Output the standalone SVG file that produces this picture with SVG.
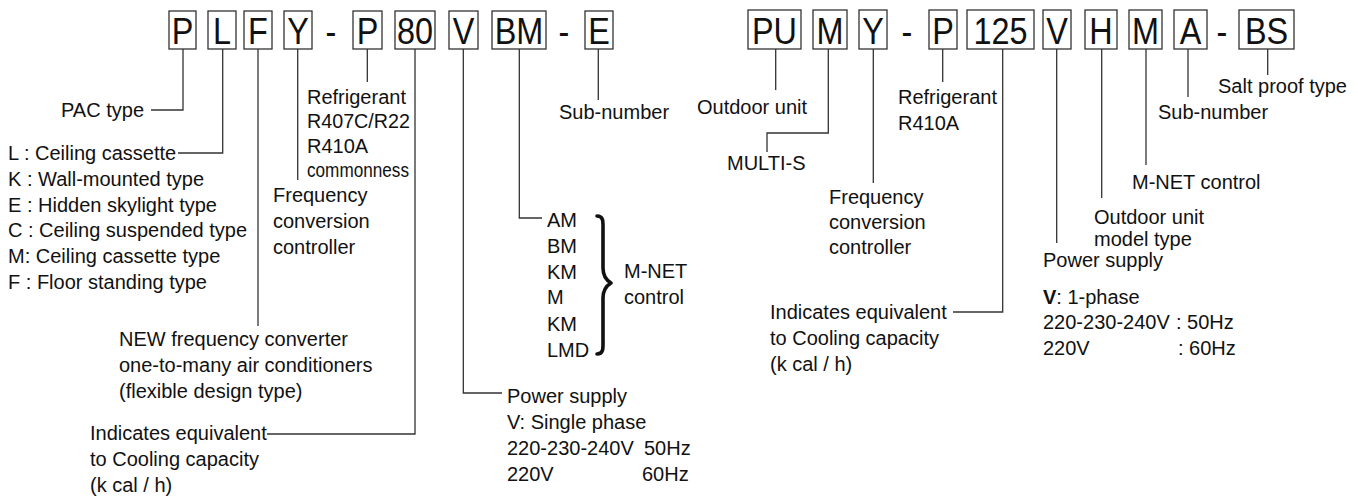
<svg xmlns="http://www.w3.org/2000/svg" width="1358" height="497" viewBox="0 0 1358 497">
<style>
.bx{fill:#fff;stroke:#333;stroke-width:1.3}
.bt{font-family:"Liberation Sans",Arial,sans-serif;font-size:36px;fill:#111;text-anchor:middle}
.t{font-family:"Liberation Sans",Arial,sans-serif;font-size:20px;fill:#111}
.ln{fill:none;stroke:#333;stroke-width:1.3}
.br{fill:none;stroke:#111;stroke-width:3.6;stroke-linecap:round;stroke-linejoin:round}
</style>
<rect width="1358" height="497" fill="#fff"/>
<g id="connectors">
<path class="ln" d="M183,49V110H151"/>
<path class="ln" d="M222.7,49V153H178"/>
<path class="ln" d="M258,49V326"/>
<path class="ln" d="M297.7,49V180"/>
<path class="ln" d="M367.3,49V82"/>
<path class="ln" d="M415,49V434H267"/>
<path class="ln" d="M463.3,49V393H502"/>
<path class="ln" d="M519.3,49V218H542"/>
<path class="ln" d="M598.3,49V100"/>
<path class="ln" d="M775.7,49V90"/>
<path class="ln" d="M828.3,49V133H767V152"/>
<path class="ln" d="M873.3,49V183"/>
<path class="ln" d="M942.7,49V82"/>
<path class="ln" d="M1002.7,49V312H953"/>
<path class="ln" d="M1056.7,49V243"/>
<path class="ln" d="M1101.7,49V198"/>
<path class="ln" d="M1146,49V165"/>
<path class="ln" d="M1188,49V97"/>
<path class="ln" d="M1267.7,49V75"/>
</g>
<g id="code-left">
<g id="b-P1"><rect class="bx" x="169" y="11" width="27" height="38"/><text class="bt" x="182.5" y="44" textLength="21.6" lengthAdjust="spacingAndGlyphs">P</text></g>
<g id="b-L"><rect class="bx" x="208" y="11" width="28" height="38"/><text class="bt" x="222" y="44" textLength="18" lengthAdjust="spacingAndGlyphs">L</text></g>
<g id="b-F"><rect class="bx" x="244" y="11" width="28" height="38"/><text class="bt" x="258" y="44" textLength="19.8" lengthAdjust="spacingAndGlyphs">F</text></g>
<g id="b-Y1"><rect class="bx" x="284" y="11" width="28" height="38"/><text class="bt" x="298" y="44" textLength="21.6" lengthAdjust="spacingAndGlyphs">Y</text></g>
<text class="bt" x="331" y="44" textLength="10.8" lengthAdjust="spacingAndGlyphs">-</text>
<g id="b-P2"><rect class="bx" x="353" y="11" width="29" height="38"/><text class="bt" x="367.5" y="44" textLength="21.6" lengthAdjust="spacingAndGlyphs">P</text></g>
<g id="b-80"><rect class="bx" x="395" y="11" width="40" height="38"/><text class="bt" x="415" y="44" textLength="36" lengthAdjust="spacingAndGlyphs">80</text></g>
<g id="b-V1"><rect class="bx" x="449" y="11" width="29" height="38"/><text class="bt" x="463.5" y="44" textLength="21.6" lengthAdjust="spacingAndGlyphs">V</text></g>
<g id="b-BM"><rect class="bx" x="492" y="11" width="54" height="38"/><text class="bt" x="519" y="44" textLength="48.6" lengthAdjust="spacingAndGlyphs">BM</text></g>
<text class="bt" x="564" y="44" textLength="10.8" lengthAdjust="spacingAndGlyphs">-</text>
<g id="b-E"><rect class="bx" x="585" y="11" width="28" height="38"/><text class="bt" x="599" y="44" textLength="21.6" lengthAdjust="spacingAndGlyphs">E</text></g>
</g>
<g id="code-right">
<g id="b-PU"><rect class="bx" x="748" y="10" width="53" height="39"/><text class="bt" x="774.5" y="44" textLength="45" lengthAdjust="spacingAndGlyphs">PU</text></g>
<g id="b-M1"><rect class="bx" x="813" y="10" width="34" height="39"/><text class="bt" x="830" y="44" textLength="27" lengthAdjust="spacingAndGlyphs">M</text></g>
<g id="b-Y2"><rect class="bx" x="859" y="10" width="28" height="39"/><text class="bt" x="873" y="44" textLength="21.6" lengthAdjust="spacingAndGlyphs">Y</text></g>
<text class="bt" x="907" y="44" textLength="10.8" lengthAdjust="spacingAndGlyphs">-</text>
<g id="b-P3"><rect class="bx" x="929" y="10" width="28" height="39"/><text class="bt" x="943" y="44" textLength="21.6" lengthAdjust="spacingAndGlyphs">P</text></g>
<g id="b-125"><rect class="bx" x="967" y="10" width="67" height="39"/><text class="bt" x="1000.5" y="44" textLength="54" lengthAdjust="spacingAndGlyphs">125</text></g>
<g id="b-V2"><rect class="bx" x="1043" y="10" width="28" height="39"/><text class="bt" x="1057" y="44" textLength="21.6" lengthAdjust="spacingAndGlyphs">V</text></g>
<g id="b-H"><rect class="bx" x="1085" y="10" width="32" height="39"/><text class="bt" x="1101" y="44" textLength="23.4" lengthAdjust="spacingAndGlyphs">H</text></g>
<g id="b-M2"><rect class="bx" x="1129" y="10" width="33" height="39"/><text class="bt" x="1145.5" y="44" textLength="27" lengthAdjust="spacingAndGlyphs">M</text></g>
<g id="b-A"><rect class="bx" x="1174" y="10" width="33" height="39"/><text class="bt" x="1190.5" y="44" textLength="21.6" lengthAdjust="spacingAndGlyphs">A</text></g>
<text class="bt" x="1222" y="44" textLength="10.8" lengthAdjust="spacingAndGlyphs">-</text>
<g id="b-BS"><rect class="bx" x="1239" y="10" width="55" height="39"/><text class="bt" x="1266.5" y="44" textLength="43.2" lengthAdjust="spacingAndGlyphs">BS</text></g>
</g>
<g id="n-pac"><text class="t" x="61" y="117">PAC type</text></g>
<g id="n-types">
<text class="t" x="8" y="160">L : Ceiling cassette</text>
<text class="t" x="8" y="186">K : Wall-mounted type</text>
<text class="t" x="8" y="212">E : Hidden skylight type</text>
<text class="t" x="8" y="237">C : Ceiling suspended type</text>
<text class="t" x="8" y="263">M: Ceiling cassette type</text>
<text class="t" x="8" y="289">F : Floor standing type</text>
</g>
<g id="n-ref1">
<text class="t" x="307" y="104">Refrigerant</text>
<text class="t" x="307" y="128" textLength="103" lengthAdjust="spacingAndGlyphs">R407C/R22</text>
<text class="t" x="307" y="153">R410A</text>
<text class="t" x="307" y="177" textLength="102" lengthAdjust="spacingAndGlyphs">commonness</text>
</g>
<g id="n-freq1">
<text class="t" x="273" y="202">Frequency</text>
<text class="t" x="273" y="228">conversion</text>
<text class="t" x="273" y="254">controller</text>
</g>
<g id="n-new">
<text class="t" x="119" y="346">NEW frequency converter</text>
<text class="t" x="119" y="372">one-to-many air conditioners</text>
<text class="t" x="119" y="398">(flexible design type)</text>
</g>
<g id="n-cap1">
<text class="t" x="90" y="440">Indicates equivalent</text>
<text class="t" x="90" y="466">to Cooling capacity</text>
<text class="t" x="90" y="492">(k cal / h)</text>
</g>
<g id="n-power1">
<text class="t" x="507" y="403">Power supply</text>
<text class="t" x="507" y="429">V: Single phase</text>
<text class="t" x="507" y="455">220-230-240V</text><text class="t" x="644" y="455">50Hz</text>
<text class="t" x="507" y="481">220V</text><text class="t" x="642" y="481">60Hz</text>
</g>
<g id="n-models">
<text class="t" x="547" y="227">AM</text>
<text class="t" x="547" y="253">BM</text>
<text class="t" x="547" y="279">KM</text>
<text class="t" x="547" y="304">M</text>
<text class="t" x="547" y="331">KM</text>
<text class="t" x="547" y="357">LMD</text>
<path class="br" d="M597,216C604,216 603,222 603,232L603,268C603,276 606,280 611,283C606,286 603,290 603,298L603,338C603,348 604,354 597,354"/>
<text class="t" x="624" y="278">M-NET</text>
<text class="t" x="624" y="304">control</text>
</g>
<g id="n-sub1"><text class="t" x="559" y="119">Sub-number</text></g>
<g id="n-outdoor"><text class="t" x="697" y="114">Outdoor unit</text></g>
<g id="n-multi"><text class="t" x="727" y="170">MULTI-S</text></g>
<g id="n-ref2">
<text class="t" x="898" y="104">Refrigerant</text>
<text class="t" x="898" y="130">R410A</text>
</g>
<g id="n-freq2">
<text class="t" x="829" y="204">Frequency</text>
<text class="t" x="829" y="229">conversion</text>
<text class="t" x="829" y="254">controller</text>
</g>
<g id="n-cap2">
<text class="t" x="770" y="319">Indicates equivalent</text>
<text class="t" x="770" y="345">to Cooling capacity</text>
<text class="t" x="770" y="371">(k cal / h)</text>
</g>
<g id="n-power2">
<text class="t" x="1043" y="267">Power supply</text>
<text class="t" x="1043" y="304"><tspan font-weight="bold">V</tspan>: 1-phase</text>
<text class="t" x="1043" y="329">220-230-240V</text><text class="t" x="1176" y="329">: 50Hz</text>
<text class="t" x="1043" y="355">220V</text><text class="t" x="1178" y="355">: 60Hz</text>
</g>
<g id="n-odmodel">
<text class="t" x="1094" y="224">Outdoor unit</text>
<text class="t" x="1094" y="246">model type</text>
</g>
<g id="n-mnet2"><text class="t" x="1132" y="189">M-NET control</text></g>
<g id="n-sub2"><text class="t" x="1158" y="119">Sub-number</text></g>
<g id="n-salt"><text class="t" x="1218" y="93">Salt proof type</text></g>
</svg>
